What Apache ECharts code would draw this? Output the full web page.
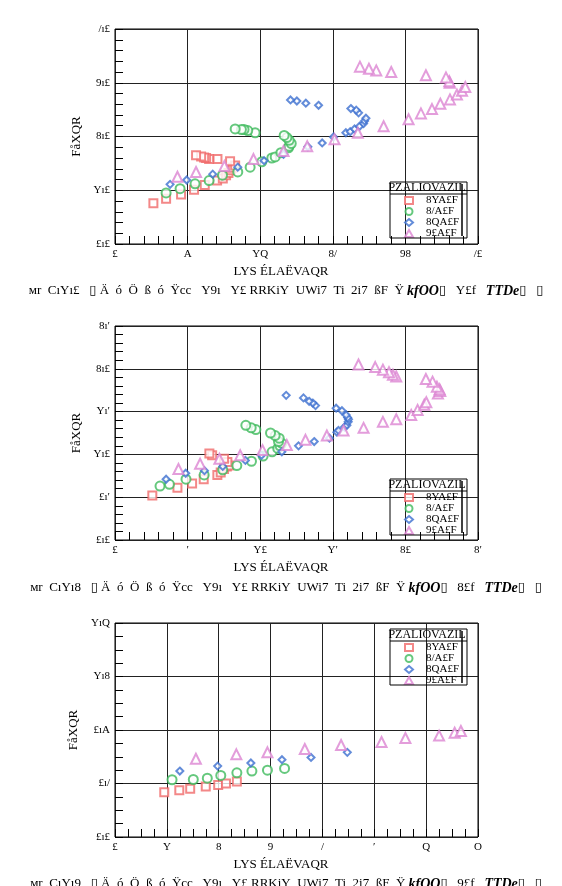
<!DOCTYPE html>
<html>
<head>
<meta charset="utf-8">
<script src="https://cdn.jsdelivr.net/npm/echarts@6/dist/echarts.min.js"></script>
<style>
  html, body { margin: 0; padding: 0; background: #fff; }
  #chart { width: 562px; height: 886px; }
</style>
</head>
<body>
<div id="chart"></div>
<script>
// series names as they appear in the legend
const seriesNames = ['8YA£F', '8/A£F', '8QA£F', '9£A£F'];
const legendTitle = 'PZALIOVAZIL';
const xTitle = 'LYS ÉLAËVAQR';
const yTitle = 'FåXQR';

// panel 1
const p1Red = [[4.23,0.76],[5.63,0.84],[7.28,0.92],[8.71,1.01],[9.89,1.10],[11.25,1.18],[11.88,1.22],[12.24,1.28],[12.5,1.32],[12.76,1.37],[12.98,1.42],[13.24,1.46],[12.68,1.54],[11.29,1.58],[10.37,1.58],[10.04,1.60],[9.82,1.61],[9.49,1.63],[8.93,1.65]];
const p1Green = [[5.63,0.95],[7.17,1.03],[8.82,1.12],[10.37,1.18],[11.84,1.28],[13.53,1.34],[14.89,1.43],[16.18,1.53],[17.28,1.60],[17.65,1.62],[18.28,1.70],[19.12,1.79],[19.19,1.82],[19.42,1.87],[19.19,1.93],[18.94,1.98],[18.64,2.02],[15.44,2.07],[14.63,2.11],[14.22,2.13],[13.93,2.13],[13.24,2.14]];
const p1Blue = [[6.07,1.11],[7.9,1.19],[10.77,1.30],[13.53,1.43],[16.43,1.55],[18.57,1.67],[21.25,1.81],[22.83,1.88],[24.08,1.99],[25.44,2.07],[25.92,2.09],[26.4,2.14],[26.95,2.19],[27.39,2.24],[27.5,2.29],[27.65,2.34],[26.84,2.44],[26.58,2.49],[25.99,2.52],[22.43,2.58],[21.03,2.62],[20.04,2.66],[19.34,2.68]];
const p1Pink = [[6.88,1.25],[8.93,1.34],[12.06,1.45],[15.26,1.58],[18.57,1.73],[21.18,1.82],[24.19,1.95],[26.76,2.07],[29.6,2.19],[32.35,2.32],[33.71,2.43],[34.93,2.51],[35.85,2.61],[36.91,2.69],[37.68,2.78],[38.24,2.85],[38.6,2.92],[36.88,3.00],[36.84,3.03],[36.47,3.10],[34.26,3.14],[30.44,3.20],[28.79,3.23],[27.98,3.26],[26.99,3.30]];

// panel 2
const p2Red = [[2.57,0.52],[4.30,0.61],[5.31,0.66],[6.11,0.71],[7.05,0.76],[7.28,0.79],[7.51,0.83],[7.70,0.86],[7.86,0.87],[7.74,0.91],[7.51,0.95],[6.69,0.99],[6.50,1.01]];
const p2Green = [[3.10,0.63],[3.75,0.65],[4.89,0.71],[6.14,0.76],[7.42,0.82],[8.39,0.87],[9.40,0.92],[10.2,0.98],[10.82,1.03],[11.21,1.07],[11.37,1.10],[11.49,1.13],[11.26,1.15],[11.31,1.19],[11.03,1.22],[10.71,1.25],[9.70,1.29],[9.38,1.31],[9.01,1.34]];
const p2Blue = [[3.52,0.71],[4.87,0.78],[6.16,0.81],[7.42,0.86],[8.98,0.93],[10.09,0.99],[11.49,1.03],[12.64,1.10],[13.72,1.15],[14.77,1.19],[15.28,1.26],[15.39,1.28],[15.81,1.32],[15.97,1.34],[16.06,1.38],[16.08,1.41],[16.02,1.43],[15.92,1.46],[15.63,1.51],[15.23,1.54],[13.81,1.57],[13.62,1.60],[13.37,1.62],[12.98,1.66],[11.79,1.69]];
const p2Pink = [[4.37,0.83],[5.86,0.89],[7.19,0.95],[8.62,0.99],[10.16,1.05],[11.83,1.11],[13.12,1.17],[14.59,1.22],[15.74,1.28],[17.12,1.31],[18.45,1.38],[19.37,1.41],[20.40,1.46],[20.84,1.52],[21.30,1.58],[21.44,1.61],[22.24,1.71],[22.40,1.74],[22.36,1.76],[22.17,1.79],[21.87,1.85],[21.41,1.88],[19.37,1.91],[19.14,1.93],[18.87,1.96],[18.45,1.99],[17.92,2.02],[16.77,2.05]];

// panel 3
const p3Red = [[0.95,0.335],[1.24,0.35],[1.45,0.36],[1.75,0.378],[1.99,0.388],[2.14,0.40],[2.35,0.415]];
const p3Green = [[1.10,0.428],[1.51,0.43],[1.78,0.44],[2.04,0.46],[2.35,0.48],[2.64,0.493],[2.94,0.50],[3.27,0.513]];
const p3Blue = [[1.25,0.493],[1.98,0.53],[2.62,0.553],[3.22,0.578],[3.78,0.595],[4.48,0.633]];
const p3Pink = [[1.56,0.585],[2.34,0.618],[2.94,0.633],[3.66,0.658],[4.36,0.688],[5.14,0.71],[5.60,0.74],[6.25,0.758],[6.55,0.78],[6.67,0.793]];

// axis ranges: [xMax, xStep, yMax, yStep]
const p1Axes = [40, 8, 4.0, 1.0];
const p2Axes = [25, 5, 2.5, 0.5];
const p3Axes = [7, 1, 1.6, 0.4];

// the figure's digits come out in this glyph set
const glyph = { '0': '£', '1': 'Y', '2': '8', '3': '9', '4': '/', '5': '′', '6': 'Q', '7': 'O', '8': 'A', '9': '9', '.': 'ı' };
const toGlyph = s => String(s).split('').map(c => glyph[c] || c).join('');

const serif = "'Liberation Serif', 'DejaVu Serif', serif";
const colors = ['#f06a6a', '#3fba5c', '#3c6fcf', '#dc84d2'];
const symbols = ['emptyRect', 'emptyCircle', 'emptyDiamond', 'emptyTriangle'];
const symSizes = [8, 9, 7, 10];

const panels = [
  { top: 29, height: 215, axes: p1Axes, minor: 5, data: [p1Red, p1Green, p1Blue, p1Pink], legendTop: 182 },
  { top: 326, height: 214, axes: p2Axes, minor: 5, data: [p2Red, p2Green, p2Blue, p2Pink], legendTop: 479 },
  { top: 623, height: 214, axes: p3Axes, minor: 4, data: [p3Red, p3Green, p3Blue, p3Pink], legendTop: 629 }
];

const grids = [], xAxes = [], yAxes = [], series = [], legends = [], graphics = [];
const black = { color: '#000', width: 1 };

// tick-only axis, pulled 4px into the plot so its outward ticks sit inside the frame
const tickAxis = (gridIndex, position, max, step, minor) => ({
  type: 'value', gridIndex: gridIndex, position: position, offset: -4,
  min: 0, max: max, interval: step,
  axisLine: { show: false },
  axisTick: { show: true, length: 4, lineStyle: black },
  minorTick: { show: true, splitNumber: minor, length: 4, lineStyle: black },
  splitLine: { show: false }, axisLabel: { show: false }
});

panels.forEach((p, i) => {
  grids.push({
    left: 115, width: 363, top: p.top, height: p.height,
    show: true, borderColor: '#000', borderWidth: 1, backgroundColor: 'transparent'
  });
  const [xMax, xStep, yMax, yStep] = p.axes;
  const split = { show: true, lineStyle: { color: '#222', width: 1 } };
  const label = {
    fontFamily: serif, fontSize: 11, color: '#000', margin: 5,
    showMinLabel: true, showMaxLabel: true
  };
  xAxes.push({
    type: 'value', gridIndex: i, min: 0, max: xMax, interval: xStep,
    axisLine: { show: false }, axisTick: { show: false }, splitLine: split,
    axisLabel: Object.assign({}, label, { formatter: v => toGlyph(v) })
  });
  yAxes.push({
    type: 'value', gridIndex: i, min: 0, max: yMax, interval: yStep,
    name: yTitle, nameLocation: 'middle', nameGap: 27, nameRotate: 90,
    nameTextStyle: { fontFamily: serif, fontSize: 13, color: '#000' },
    axisLine: { show: false }, axisTick: { show: false }, splitLine: split,
    axisLabel: Object.assign({}, label, { formatter: v => toGlyph(v.toFixed(1)) })
  });
  xAxes.push(tickAxis(i, 'bottom', xMax, xStep, p.minor));
  xAxes.push(tickAxis(i, 'top', xMax, xStep, p.minor));
  yAxes.push(tickAxis(i, 'left', yMax, yStep, p.minor));
  yAxes.push(tickAxis(i, 'right', yMax, yStep, p.minor));

  p.data.forEach((d, k) => {
    series.push({
      type: 'scatter', name: seriesNames[k], xAxisIndex: i * 3, yAxisIndex: i * 3,
      data: d, symbol: symbols[k], symbolSize: symSizes[k],
      itemStyle: { color: colors[k], borderColor: colors[k], borderWidth: 1 },
      emphasis: { disabled: true }
    });
  });

  const lt = p.legendTop;
  legends.push({
    data: seriesNames.slice(), orient: 'vertical', left: 404, top: lt + 13,
    itemWidth: 8, itemHeight: 7, itemGap: 0, padding: 0, selectedMode: false,
    textStyle: { fontFamily: serif, fontSize: 11, lineHeight: 10.5, color: '#000', padding: [0, 0, 0, 8] }
  });
  graphics.push({
    type: 'rect', shape: { x: 390, y: lt, width: 77, height: 56 },
    style: { fill: 'none', stroke: '#000', lineWidth: 1 }, z: 10
  });
  graphics.push({
    type: 'line', shape: { x1: 390, y1: lt + 12, x2: 467, y2: lt + 12 },
    style: { stroke: '#000', lineWidth: 1 }, z: 10
  });
  graphics.push({
    type: 'line', shape: { x1: 462, y1: lt + 2, x2: 462, y2: lt + 54 },
    style: { stroke: '#000', lineWidth: 1.5 }, z: 10
  });
  graphics.push({
    type: 'text', x: 427, y: lt + 6, z: 10,
    style: { text: legendTitle, fontFamily: serif, fontSize: 12, fill: '#000', align: 'center', verticalAlign: 'middle' }
  });
  // x axis title
  graphics.push({
    type: 'text', x: 281, y: p.top + p.height + 28,
    style: { text: xTitle, fontFamily: serif, fontSize: 13, fill: '#000', align: 'center', verticalAlign: 'middle' }
  });
});

// figure captions below the panels
const captions = [
  { y: 291, lead: 'мr  CıYı£   ▯ Ä  ó  Ö  ß  ó  Ÿcc   Y9ı   Y£ RRKiY  UWi7  Ti  2i7  ßF  Ÿ ', mid: '   Y£f   ' },
  { y: 588, lead: 'мr  CıYı8   ▯ Ä  ó  Ö  ß  ó  Ÿcc   Y9ı   Y£ RRKiY  UWi7  Ti  2i7  ßF  Ÿ ', mid: '   8£f   ' },
  { y: 884, lead: 'мr  CıYı9   ▯ Ä  ó  Ö  ß  ó  Ÿcc   Y9ı   Y£ RRKiY  UWi7  Ti  2i7  ßF  Ÿ ', mid: '   9£f   ' }
];
captions.forEach(c => {
  graphics.push({
    type: 'text', x: 286, y: c.y,
    style: {
      text: '{n|' + c.lead + '}{b|kfOO}{n|▯' + c.mid + '}{b|TTDe}{n|▯   ▯}',
      align: 'center', verticalAlign: 'middle',
      rich: {
        n: { fontFamily: serif, fontSize: 13, fill: '#000' },
        b: { fontFamily: serif, fontSize: 14, fontWeight: 'bold', fontStyle: 'italic', fill: '#000' }
      }
    }
  });
});

const chart = echarts.init(document.getElementById('chart'));
chart.setOption({
  animation: false,
  backgroundColor: '#fff',
  grid: grids,
  xAxis: xAxes,
  yAxis: yAxes,
  legend: legends,
  graphic: graphics,
  series: series
});
</script>
</body>
</html>
